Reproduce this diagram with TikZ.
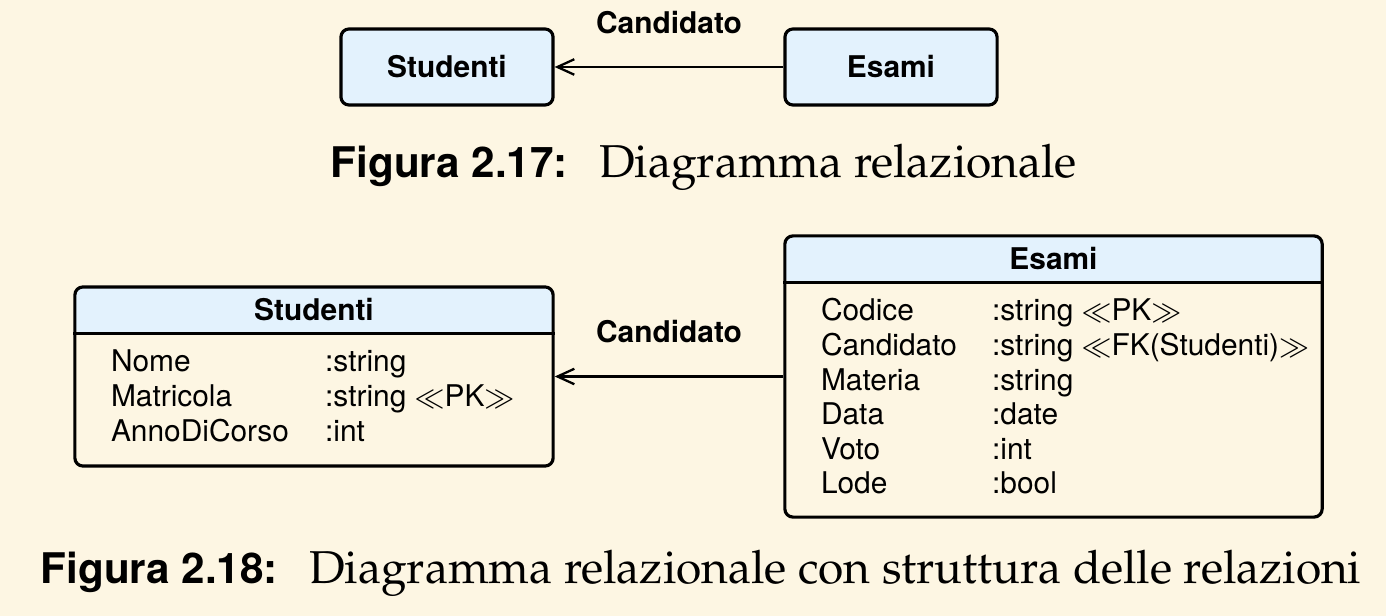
\documentclass[tikz,border=0pt]{standalone}
\usepackage[T1,TU]{fontenc}
\usepackage{fontspec}
\setsansfont{TeX Gyre Heros}
\usepackage{array}
\usetikzlibrary{arrows.meta,positioning}
\definecolor{PaperCream}{HTML}{FDF6E3}
\definecolor{HeadBlue}{HTML}{E3F2FD}
\newcommand{\palafont}{\fontencoding{T1}\fontfamily{ppl}\selectfont}
\newcommand{\diagfont}{\sffamily\fontsize{8.5}{9.85}\selectfont}

\begin{document}
\begin{tikzpicture}[x=0.01cm, y=-0.01cm,
  relbox/.style={draw, line width=0.9pt, rounded corners=2.3pt, fill=HeadBlue,
    minimum width=2.12cm, minimum height=0.76cm, font=\diagfont\bfseries},
  tablebox/.style={draw, line width=0.9pt, rounded corners=2.3pt,
    path picture={\fill[HeadBlue] (path picture bounding box.north west)
      rectangle ([yshift=-0.47cm]path picture bounding box.north east);}},
  tablehead/.style={inner sep=0pt, minimum height=0.47cm, font=\diagfont\bfseries},
  tablebody/.style={inner sep=0pt, font=\diagfont},
  conn/.style={-{Straight Barb[length=4.8pt, width=4.4pt]}, line width=0.65pt},
  rellabel/.style={inner sep=0pt, font=\diagfont\bfseries},
  capnum/.style={inner sep=0pt, font=\sffamily\bfseries\fontsize{12}{14}\selectfont},
  captext/.style={inner sep=0pt, font=\palafont\fontsize{13.1}{15}\selectfont}]

% Background
\fill[PaperCream] (0,0) rectangle (1386,616);
\useasboundingbox (0,0) rectangle (1386,616);

% Figura 2.17: plain boxes
\node[relbox] (stud1) at (447,67) {Studenti};
\node[relbox] (esami1) at (891,67) {Esami};
\draw[conn] (esami1) -- (stud1) node[rellabel, midway, above=0.32cm] (cand1) {Candidato};

\node[capnum, anchor=base west] (fig1) at (330,178) {Figura 2.17:};
\node[captext, anchor=base west] (fig1text) at ([xshift=0.3cm]fig1.base east) {Diagramma relazionale};

% Figura 2.18: tables
\node[tablebox, minimum width=4.78cm, minimum height=1.79cm] (stud2) at (314,376.5) {};
\node[tablehead, below=0pt of stud2.north] (stud2h) {Studenti};
\draw[line width=0.9pt] (stud2h.south -| stud2.west) -- (stud2h.south -| stud2.east);
\node[tablebody, anchor=base west] (stud2b) at ([xshift=0.37cm, yshift=-0.38cm]stud2h.south -| stud2.west) {%
  \begin{tabular}[t]{@{}p{2.14cm}@{}l@{}}
    Nome & :string\\
    Matricola & :string $\ll$PK$\gg$\\
    AnnoDiCorso & :int
  \end{tabular}};

\node[tablebox, minimum width=5.37cm, minimum height=2.81cm] (esami2) at (1053.5,376.5) {};
\node[tablehead, below=0pt of esami2.north] (esami2h) {Esami};
\draw[line width=0.9pt] (esami2h.south -| esami2.west) -- (esami2h.south -| esami2.east);
\node[tablebody, anchor=base west] (esami2b) at ([xshift=0.37cm, yshift=-0.38cm]esami2h.south -| esami2.west) {%
  \begin{tabular}[t]{@{}p{1.71cm}@{}l@{}}
    Codice & :string $\ll$PK$\gg$\\
    Candidato & :string $\ll$FK(Studenti)$\gg$\\
    Materia & :string\\
    Data & :date\\
    Voto & :int\\
    Lode & :bool
  \end{tabular}};

\draw[conn] (esami2) -- (stud2) node[rellabel, midway, above=0.32cm] (cand2) {Candidato};

\node[capnum, anchor=base west] (fig2) at (40,583) {Figura 2.18:};
\node[captext, anchor=base west] (fig2text) at ([xshift=0.3cm]fig2.base east) {Diagramma relazionale con struttura delle relazioni};
\end{tikzpicture}
\end{document}
